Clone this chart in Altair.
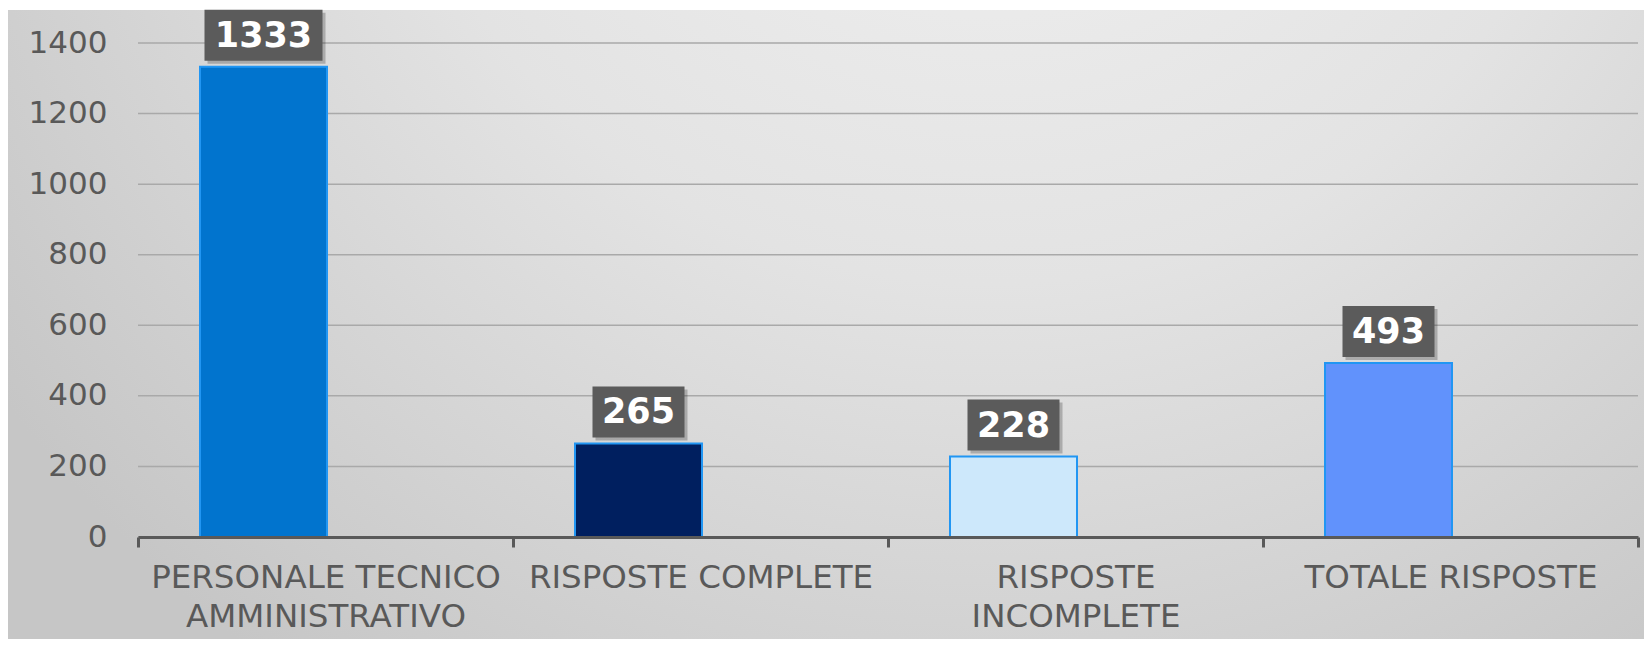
import altair as alt
import pandas as pd

categories = ["PERSONALE TECNICO|AMMINISTRATIVO", "RISPOSTE COMPLETE", "RISPOSTE|INCOMPLETE", "TOTALE RISPOSTE"]
values = [1333, 265, 228, 493]
bar_colors = ["#0174CE", "#001F5F", "#CDE8FB", "#6192FC"]
y_ticks = [0, 200, 400, 600, 800, 1000, 1200, 1400]

df = pd.DataFrame({"cat": categories, "value": values, "color": bar_colors})
grid_df = pd.DataFrame({"value": y_ticks})

FONT = "DejaVu Sans"
GRAY = "#595959"
W, H = 1500, 494
PAD_L, PAD_T, PAD_R = 130, 35, 6
TOTAL_W, TOTAL_H = 1636, 631
PAD_B = TOTAL_H - PAD_T - H
OFF = -62

x_enc = alt.X(
    "cat:N",
    sort=categories,
    title=None,
    scale=alt.Scale(paddingInner=0, paddingOuter=0),
    axis=alt.Axis(
        labelExpr="split(datum.label, '|')",
        labelAngle=0,
        labelFont=FONT,
        labelFontSize=32.5,
        labelColor=GRAY,
        labelLineHeight=39,
        labelPadding=14,
        labelBaseline="top",
        labelLimit=0,
        domainColor=GRAY,
        domainWidth=3,
        tickColor=GRAY,
        tickWidth=3,
        tickSize=10,
        tickBand="extent",
        grid=False,
        zindex=1,
    ),
)
y_axis = alt.Axis(
    values=y_ticks,
    format="d",
    labelFont=FONT,
    labelFontSize=31,
    labelColor=GRAY,
    labelPadding=31,
    ticks=False,
    domain=False,
    grid=False,
    zindex=1,
)
y_scale = alt.Scale(domain=[0, 1400], nice=False)

base = alt.Chart(df)

bg = base.mark_rect(
    fill={
        "gradient": "radial",
        "x1": 0.6, "y1": 0.1, "r1": 0,
        "x2": 0.6, "y2": 0.1, "r2": 0.75,
        "stops": [
            {"offset": 0, "color": "#f3f3f3"},
            {"offset": 0.5, "color": "#e3e3e3"},
            {"offset": 1, "color": "#c6c6c6"},
        ],
    }
).encode(
    x=alt.value(-PAD_L),
    x2=alt.value(W + PAD_R),
    y=alt.value(-PAD_T + 2),
    y2=alt.value(H + PAD_B),
)

grid = alt.Chart(grid_df).mark_rule(color="#a9a9a9", strokeWidth=1.5).encode(
    y=alt.Y("value:Q", title=None, scale=y_scale, axis=y_axis),
    x=alt.value(0),
    x2=alt.value(W),
)

bars = base.mark_bar(width=127, xOffset=OFF, stroke="#2196F3", strokeWidth=2).encode(
    x=x_enc,
    y=alt.Y("value:Q", title=None, scale=y_scale, axis=y_axis),
    fill=alt.Color("color:N", scale=None),
)

def box(wide, width):
    flt = "datum.value >= 1000" if wide else "datum.value < 1000"
    shadow = base.transform_filter(flt).mark_rect(
        width=width, xOffset=OFF + 3, yOffset=-3, y2Offset=-54, fill="#000000", opacity=0.22
    ).encode(x=alt.X("cat:N", sort=categories), y="value:Q", y2="value:Q")
    rect = base.transform_filter(flt).mark_rect(
        width=width, xOffset=OFF, yOffset=-6, y2Offset=-57, fill="#5b5b5b"
    ).encode(x=alt.X("cat:N", sort=categories), y="value:Q", y2="value:Q")
    return shadow + rect

text = base.mark_text(
    xOffset=OFF, yOffset=-31, baseline="middle", align="center",
    font=FONT, fontSize=35, fontWeight="bold", color="white",
).encode(x=alt.X("cat:N", sort=categories), y="value:Q", text="value:Q")

chart = alt.layer(bg, grid, bars, box(True, 118), box(False, 92), text).properties(
    width=W, height=H,
    autosize=alt.AutoSizeParams(type="none"),
    padding={"left": PAD_L, "top": PAD_T, "right": PAD_R, "bottom": PAD_B},
    background="white",
).configure_view(stroke=None)

chart.save("out.html", embed_options={"renderer": "svg", "actions": False})
